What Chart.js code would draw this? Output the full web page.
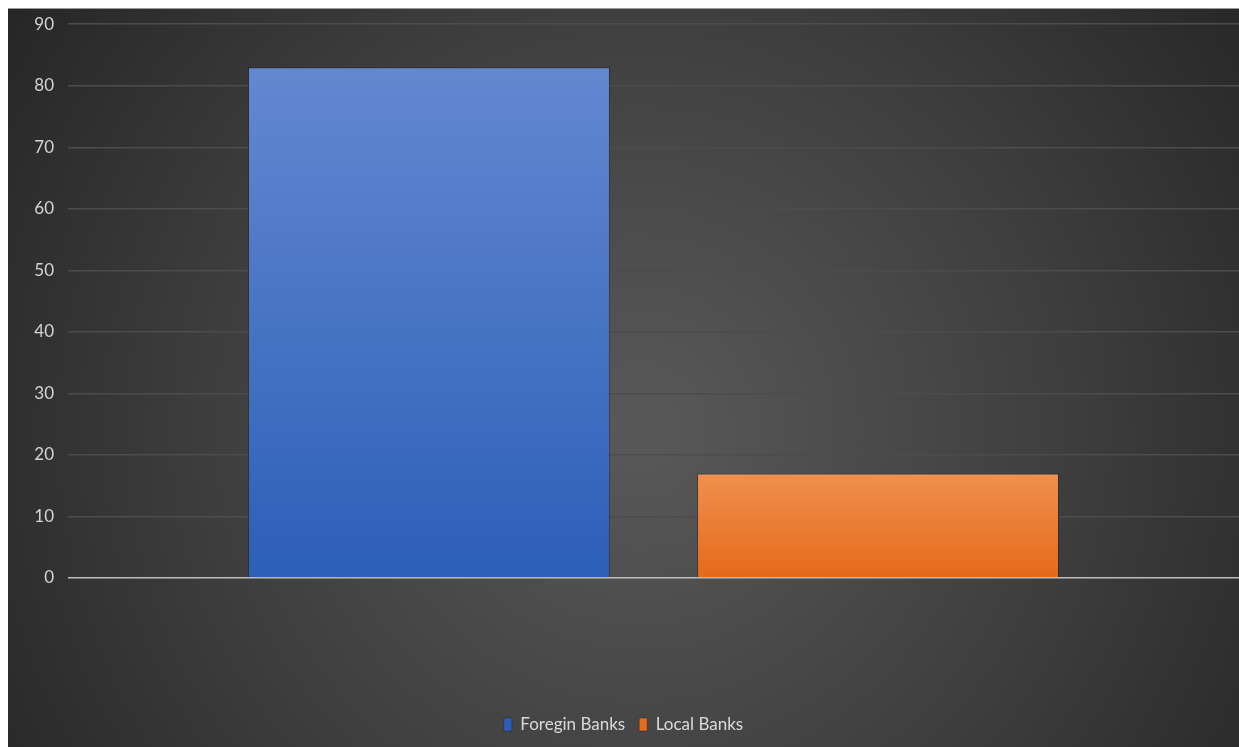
<!DOCTYPE html>
<html>
<head>
<meta charset="utf-8">
<script src="https://cdn.jsdelivr.net/npm/chart.js@4"></script>
<style>
  html, body { margin: 0; padding: 0; background: #ffffff; }
  #wrap { width: 1239px; height: 747px; position: relative; }
</style>
</head>
<body>
<div id="wrap"><canvas id="chart" width="1239" height="747"></canvas></div>
<script>
// Share of banks by ownership
const categories = ['Banks'];
const seriesNames = ['Foregin Banks', 'Local Banks'];
const foreignBanks = [83];
const localBanks = [17];
const yTicks = [0, 10, 20, 30, 40, 50, 60, 70, 80, 90];

// Dark panel with a soft radial light behind the plot
const panelBackground = {
  id: 'panelBackground',
  beforeDraw(chart) {
    const { ctx, width, height } = chart;
    ctx.save();
    ctx.fillStyle = '#ffffff';
    ctx.fillRect(0, 0, width, height);
    const g = ctx.createRadialGradient(640, 430, 20, 640, 430, 760);
    g.addColorStop(0, '#585858');
    g.addColorStop(0.55, '#3e3e3e');
    g.addColorStop(1, '#262626');
    ctx.fillStyle = g;
    ctx.fillRect(8, 9, width - 8, height - 9);
    ctx.fillStyle = '#9a9a9a';
    ctx.fillRect(8, 8, width - 8, 1);
    ctx.restore();
  }
};

// Vertical gradient running from each bar's top down to the baseline
function barGradient(top, bottom) {
  return (context) => {
    const chart = context.chart;
    const y = chart.scales && chart.scales.y;
    if (!chart.chartArea || !y || context.raw == null) return bottom;
    const y0 = y.getPixelForValue(context.raw);
    const y1 = y.getPixelForValue(0);
    if (!isFinite(y0) || !isFinite(y1) || y0 === y1) return bottom;
    const g = chart.ctx.createLinearGradient(0, y0, 0, y1);
    g.addColorStop(0, top);
    g.addColorStop(1, bottom);
    return g;
  };
}

new Chart(document.getElementById('chart'), {
  type: 'bar',
  data: {
    labels: categories,
    datasets: [
      {
        label: seriesNames[0],
        data: foreignBanks,
        backgroundColor: barGradient('#6388d0', '#2c5fb8'),
        borderColor: 'rgba(20,20,20,0.35)',
        borderWidth: 1
      },
      {
        label: seriesNames[1],
        data: localBanks,
        backgroundColor: barGradient('#f0904f', '#e56a1a'),
        borderColor: 'rgba(20,20,20,0.35)',
        borderWidth: 1
      }
    ]
  },
  plugins: [panelBackground],
  options: {
    responsive: false,
    animation: false,
    layout: { padding: { top: 17, left: 8, right: 0, bottom: 4 } },
    datasets: {
      bar: { categoryPercentage: 0.767, barPercentage: 0.806 }
    },
    scales: {
      x: {
        ticks: { display: false },
        grid: { display: false },
        border: { display: false },
        afterFit(scale) { scale.height = 124; }
      },
      y: {
        min: 0,
        max: 90,
        afterBuildTicks(scale) { scale.ticks = yTicks.map(v => ({ value: v })); },
        afterFit(scale) { scale.width = 60; },
        ticks: {
          color: '#d4d4d4',
          padding: 14,
          font: { family: 'Lato', size: 17 }
        },
        grid: {
          drawTicks: false,
          lineWidth: 1.5,
          color: (c) => (c.tick && c.tick.value === 0 ? '#bdbdbd' : '#4c4c4c')
        },
        border: { display: false }
      }
    },
    plugins: {
      legend: {
        position: 'bottom',
        labels: {
          color: '#dadada',
          boxWidth: 8,
          boxHeight: 13,
          padding: 14,
          font: { family: 'Lato', size: 17 }
        }
      },
      tooltip: { enabled: false }
    }
  }
});
</script>
</body>
</html>
